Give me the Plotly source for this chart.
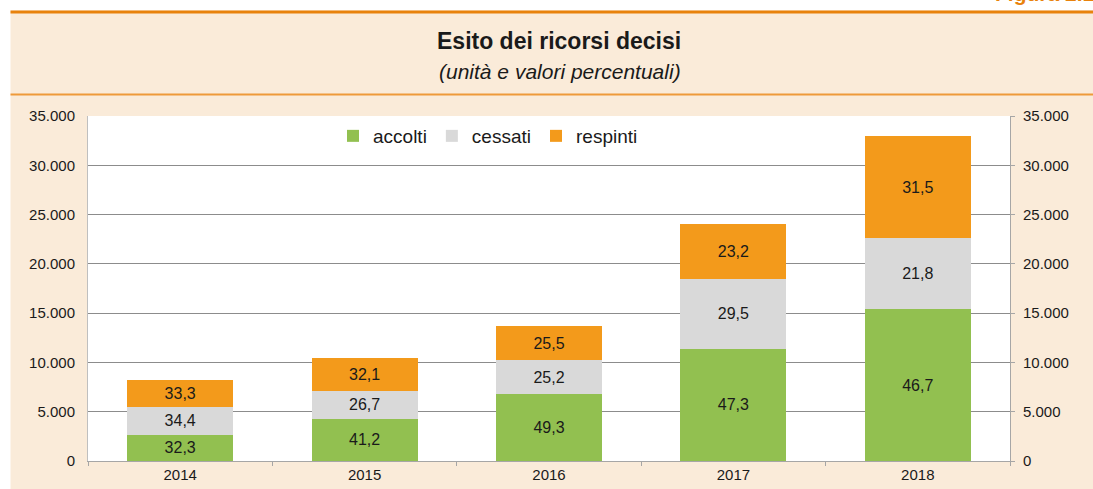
import plotly.graph_objects as go

years = ["2014", "2015", "2016", "2017", "2018"]
accolti = [2650, 4305, 6754, 11376, 15397]
cessati = [2820, 2790, 3452, 7095, 7187]
respinti = [2730, 3354, 3494, 5580, 10386]
pct_accolti = ["32,3", "41,2", "49,3", "47,3", "46,7"]
pct_cessati = ["34,4", "26,7", "25,2", "29,5", "21,8"]
pct_respinti = ["33,3", "32,1", "25,5", "23,2", "31,5"]
y_ticks = [0, 5000, 10000, 15000, 20000, 25000, 30000, 35000]

W, H = 1093, 489
L, R, T, B = 88, 1010, 116, 461
PW, PH = R - L, B - T


def px(x):
    return (x - L) / PW


def py(y):
    return (B - y) / PH


BEIGE = "#FAEBD9"
ORANGE = "#E8820C"
FONT = "Liberation Sans, Arial, sans-serif"
TXT = "#1a1a1a"

fig = go.Figure()
series = [
    ("accolti", accolti, pct_accolti, "#92C050"),
    ("cessati", cessati, pct_cessati, "#D9D9D9"),
    ("respinti", respinti, pct_respinti, "#F39A1B"),
]
for name, vals, labels, col in series:
    fig.add_trace(go.Bar(
        x=years, y=vals, name=name, text=labels,
        marker=dict(color=col, line=dict(width=0)),
        textposition="inside", insidetextanchor="middle",
        textfont=dict(size=16, color=TXT, family=FONT),
        textangle=0, hoverinfo="skip",
    ))
fig.add_trace(go.Scatter(x=[], y=[], yaxis="y2", showlegend=False, hoverinfo="skip"))

shapes = [
    dict(type="rect", xref="paper", yref="paper", x0=px(-5), x1=px(W + 5), y0=py(10.5), y1=py(-5),
         fillcolor="white", line=dict(width=0), layer="below"),
    dict(type="rect", xref="paper", yref="paper", x0=px(-5), x1=px(10.5), y0=py(H + 5), y1=py(-5),
         fillcolor="white", line=dict(width=0), layer="below"),
    dict(type="line", xref="paper", yref="paper", x0=px(10.5), x1=px(W + 5), y0=py(12), y1=py(12),
         line=dict(color=ORANGE, width=3)),
    dict(type="line", xref="paper", yref="paper", x0=px(10.5), x1=px(W + 5), y0=py(94.5), y1=py(94.5),
         line=dict(color="#EE9A3A", width=2)),
]

annotations = [
    dict(text="<b>Esito dei ricorsi decisi</b>", xref="paper", yref="paper", x=px(559), y=py(41),
         showarrow=False, font=dict(size=23, color=TXT, family=FONT), xanchor="center", yanchor="middle"),
    dict(text="<i>(unità e valori percentuali)</i>", xref="paper", yref="paper", x=px(560), y=py(71),
         showarrow=False, font=dict(size=21, color=TXT, family=FONT), xanchor="center", yanchor="middle"),
    dict(text="<b>Figura 2.1</b>", xref="paper", yref="paper", x=px(1097), y=py(7),
         showarrow=False, font=dict(size=21, color=ORANGE, family=FONT), xanchor="right", yanchor="bottom"),
]

fig.update_layout(
    width=W, height=H,
    margin=dict(l=L, r=W - R, t=T, b=H - B, pad=0, autoexpand=False),
    paper_bgcolor=BEIGE, plot_bgcolor="white",
    barmode="stack", bargap=0.425,
    separators=",.",
    font=dict(family=FONT, size=15, color=TXT),
    shapes=shapes, annotations=annotations,
    showlegend=True,
    legend=dict(orientation="h", x=px(333), y=py(136), xanchor="left", yanchor="middle",
                bgcolor="rgba(0,0,0,0)", font=dict(size=19, color=TXT, family=FONT),
                itemwidth=30, traceorder="normal"),
    xaxis=dict(type="category", showgrid=False, showline=True, linecolor="#A6A6A6", linewidth=1,
               ticks="outside", tickson="boundaries", ticklen=4, tickcolor="#A6A6A6",
               tickfont=dict(size=15, color=TXT), fixedrange=True, automargin=False),
    yaxis=dict(range=[0, 35000], tickvals=y_ticks, tickformat=",d", showgrid=True,
               gridcolor="#8C8C8C", gridwidth=1, showline=True, linecolor="#BFBFBF", linewidth=1,
               ticks="", ticklabelstandoff=9, zeroline=False, automargin=False,
               tickfont=dict(size=15, color=TXT)),
    yaxis2=dict(range=[0, 35000], tickvals=y_ticks, tickformat=",d", overlaying="y", side="right",
                showgrid=False, showline=True, linecolor="#A6A6A6", linewidth=1,
                ticks="outside", ticklen=4, tickcolor="#A6A6A6", ticklabelstandoff=5, zeroline=False,
                automargin=False, tickfont=dict(size=15, color=TXT)),
)

fig.write_html("out.html", config={"displayModeBar": False},
               post_script="document.body.style.margin='0px';document.body.style.overflow='hidden';")
